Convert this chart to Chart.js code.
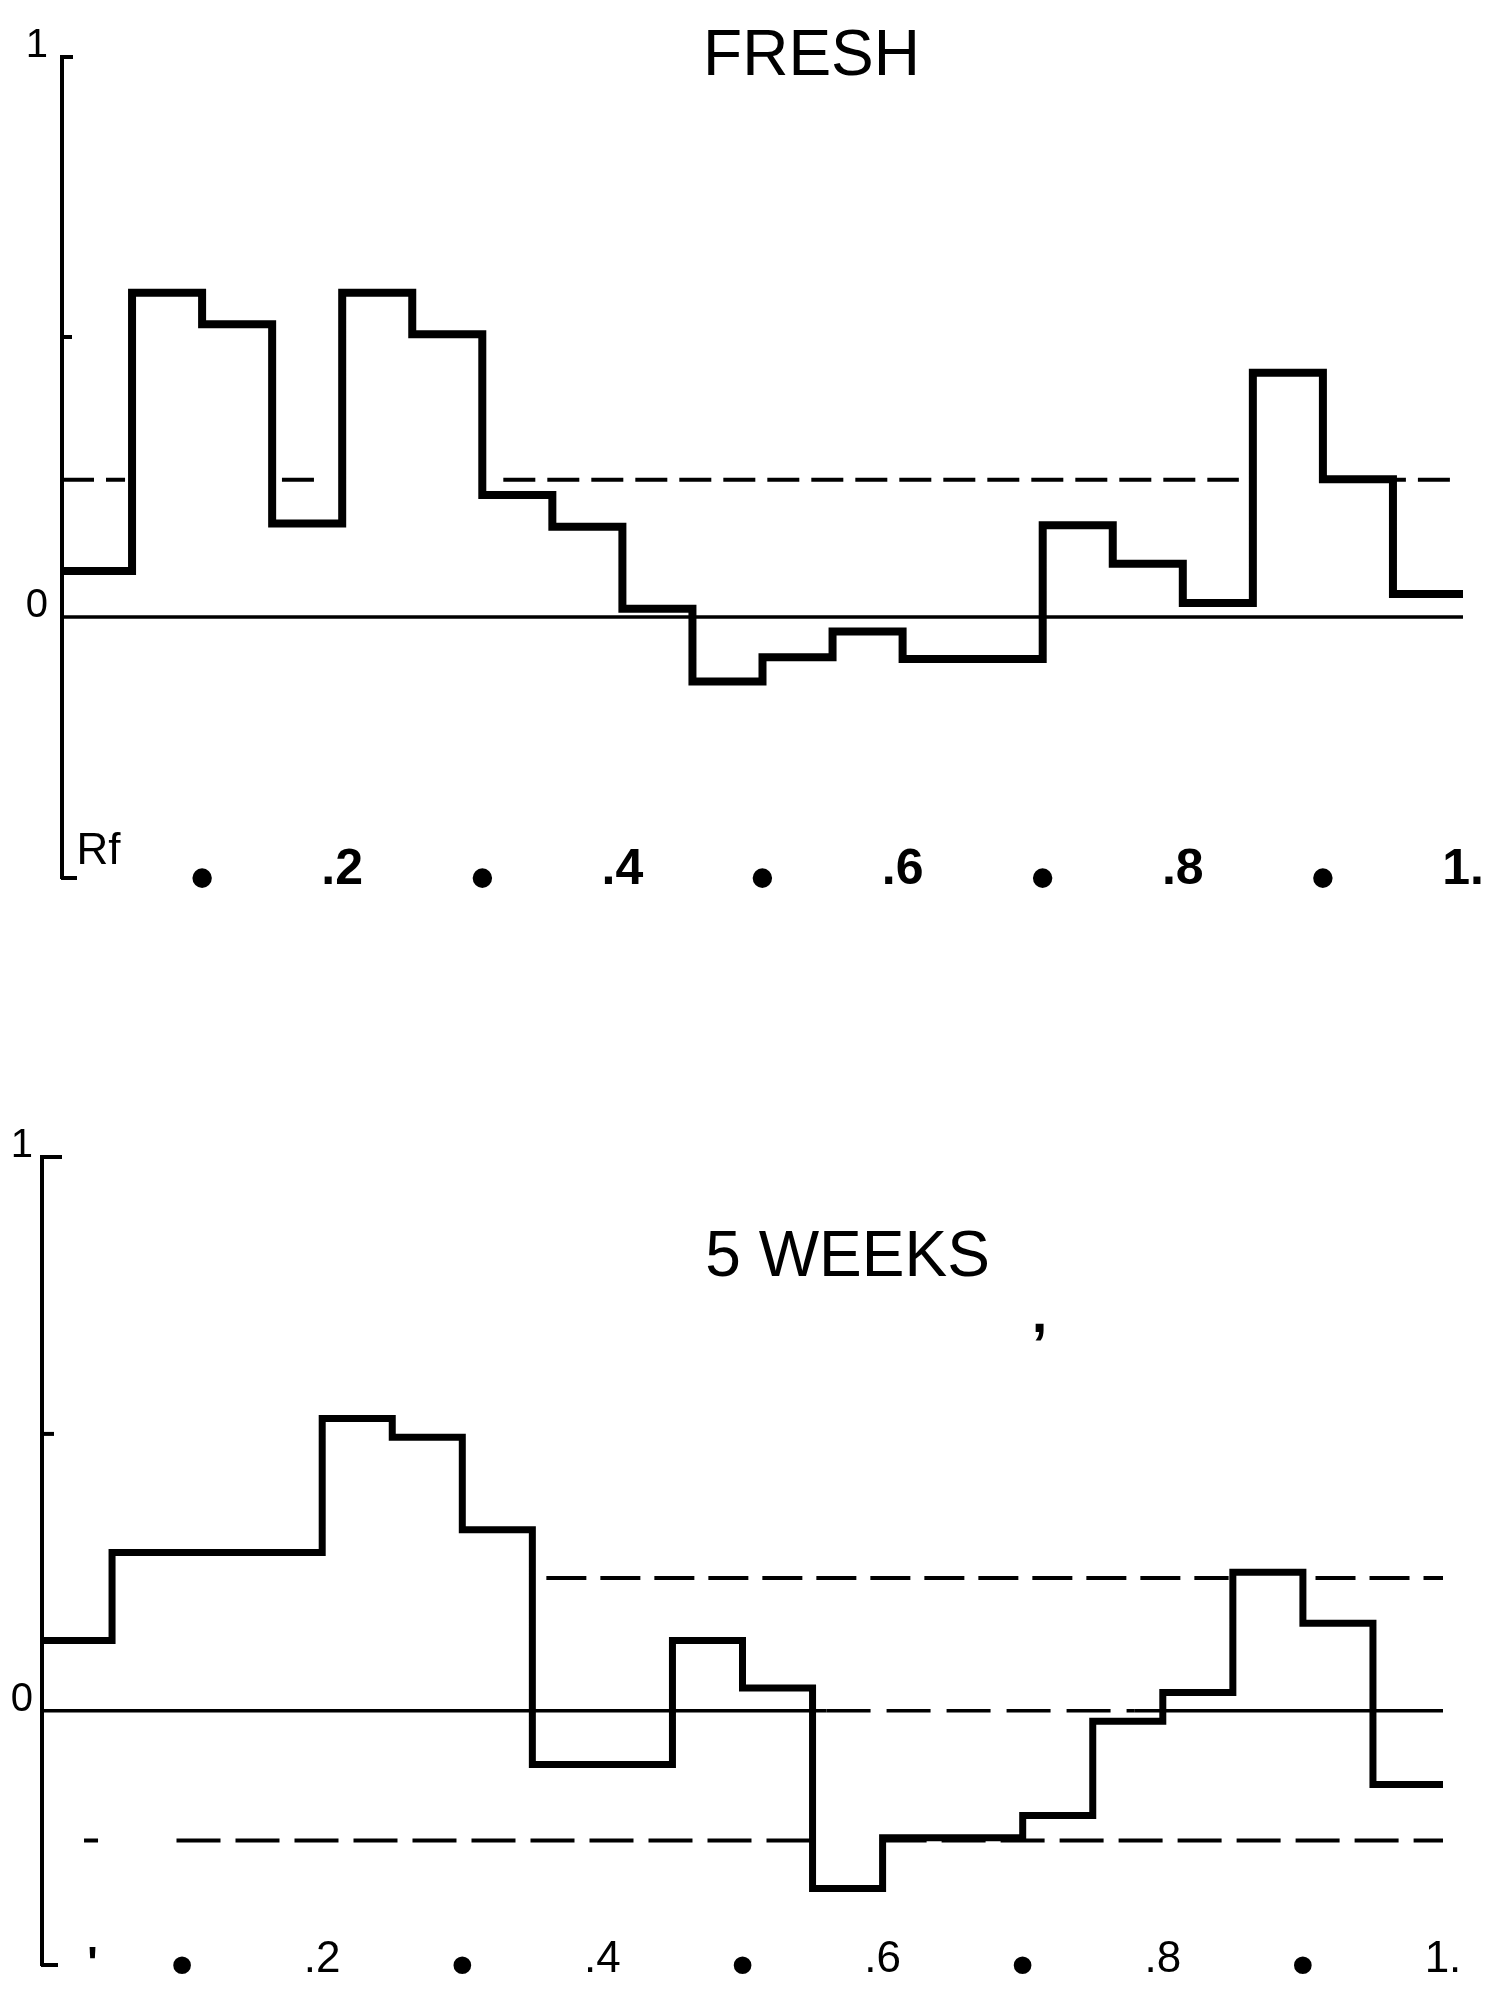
<!DOCTYPE html>
<html>
<head>
<meta charset="utf-8">
<title>FRESH / 5 WEEKS</title>
<script src="https://cdn.jsdelivr.net/npm/chart.js@4.4.1/dist/chart.umd.min.js"></script>
<style>
  html, body { margin: 0; padding: 0; background: #fff; }
  canvas { display: block; }
</style>
</head>
<body>
<canvas id="fresh-chart" width="1485" height="1000"></canvas>
<canvas id="weeks-chart" width="1485" height="998"></canvas>
<script>
// Rf のビン境界（0.05刻み）
const rfEdges = [0, 0.05, 0.1, 0.15, 0.2, 0.25, 0.3, 0.35, 0.4, 0.45, 0.5,
                 0.55, 0.6, 0.65, 0.7, 0.75, 0.8, 0.85, 0.9, 0.95, 1.0];

// 各ビンの値
const freshValues = [0.082, 0.579, 0.523, 0.167, 0.579, 0.505, 0.218, 0.161, 0.015, -0.115,
                     -0.072, -0.026, -0.075, -0.075, 0.164, 0.095, 0.025, 0.436, 0.246, 0.041];
const weeksValues = [0.127, 0.286, 0.286, 0.286, 0.528, 0.494, 0.327, -0.097, -0.097, 0.127,
                     0.041, -0.321, -0.229, -0.229, -0.189, -0.019, 0.033, 0.250, 0.158, -0.133];

// 破線の基準線（値と見えている区間）
const freshBand = 0.245;
const freshBandRanges = [[0, 0.045], [0.157, 0.18], [0.315, 0.84], [0.905, 0.993]];
const weeksBandUpper = 0.24;
const weeksBandUpperRanges = [[0.36, 0.847], [0.909, 1.0]];
const weeksBandLower = -0.234;
const weeksBandLowerRanges = [[0.03, 0.04], [0.096, 0.55], [0.6, 1.0]];
const weeksZeroDashRange = [0.56, 0.78];

// 目盛り
const xTickValues = [0, 0.1, 0.2, 0.3, 0.4, 0.5, 0.6, 0.7, 0.8, 0.9, 1.0];
const freshXLabels = ['', '•', '.2', '•', '.4', '•', '.6', '•', '.8', '•', '1.'];
const weeksXLabels = ['', '•', '.2', '•', '.4', '•', '.6', '•', '.8', '•', '1.'];
const yTickValues = [0, 1];
const yTickLabels = ['0', '1'];

const FONT = '"Liberation Sans", Arial, sans-serif';

/**
 * ステップ状の点列を作る
 */
function stepPoints(values) {
  const pts = values.map((v, i) => ({ x: rfEdges[i], y: v }));
  pts.push({ x: rfEdges[values.length], y: values[values.length - 1] });
  return pts;
}

/**
 * 区間ごとに途切れる水平線の点列
 */
function dashedSegments(ranges, y) {
  const pts = [];
  ranges.forEach(r => {
    pts.push({ x: r[0], y: y }, { x: r[1], y: y }, { x: r[1], y: null });
  });
  return pts;
}

// 軸の内向き目盛りと見出しを描くプラグイン
const panelDecor = {
  id: 'panelDecor',
  afterDraw(chart, args, opts) {
    const { ctx, chartArea, scales: { x, y } } = chart;
    ctx.save();
    ctx.strokeStyle = '#000';
    ctx.lineWidth = opts.markWidth;
    opts.marks.forEach(m => {
      const py = y.getPixelForValue(m[0]);
      ctx.beginPath();
      ctx.moveTo(chartArea.left - 1, py);
      ctx.lineTo(chartArea.left + m[1], py);
      ctx.stroke();
    });
    ctx.fillStyle = '#000';
    ctx.textAlign = 'center';
    ctx.textBaseline = 'middle';
    opts.texts.forEach(t => {
      ctx.font = t.font;
      ctx.fillText(t.text, x.getPixelForValue(t.x), y.getPixelForValue(t.y));
    });
    ctx.restore();
  }
};

function makeChart(id, cfg) {
  const ctx = document.getElementById(id).getContext('2d');
  return new Chart(ctx, {
    type: 'line',
    data: { datasets: cfg.datasets },
    plugins: [panelDecor],
    options: {
      responsive: false,
      animation: false,
      events: [],
      layout: { padding: cfg.padding },
      plugins: {
        legend: { display: false },
        tooltip: { enabled: false },
        title: { display: false },
        panelDecor: cfg.decor
      },
      elements: { point: { radius: 0 } },
      scales: {
        x: {
          type: 'linear',
          min: 0,
          max: 1,
          grid: { display: false },
          border: { display: false },
          afterFit: (scale) => { scale.height = cfg.xHeight; },
          afterBuildTicks: (scale) => { scale.ticks = xTickValues.map(v => ({ value: v })); },
          ticks: {
            autoSkip: false,
            maxRotation: 0,
            mirror: true,
            padding: cfg.xPadding,
            color: '#000',
            font: (c) => (cfg.xLabels[c.index] === '•' ? cfg.dotFont : cfg.xFont),
            callback: (value, index) => cfg.xLabels[index]
          }
        },
        y: {
          type: 'linear',
          min: cfg.yMin,
          max: 1,
          grid: { display: true, drawOnChartArea: false, drawTicks: false },
          border: { display: true, color: '#000', width: 4, dash: cfg.axisDash },
          afterFit: (scale) => { scale.width = cfg.yWidth; },
          afterBuildTicks: (scale) => { scale.ticks = yTickValues.map(v => ({ value: v })); },
          ticks: {
            padding: cfg.yPadding,
            labelOffset: -11,
            color: '#000',
            font: { family: FONT, size: 40 },
            callback: (value, index) => yTickLabels[index]
          }
        }
      }
    }
  });
}

// FRESH
makeChart('fresh-chart', {
  padding: { left: 0, right: 22, top: 57, bottom: 0 },
  yWidth: 62,
  xHeight: 122,
  yMin: -0.466,
  yPadding: 14,
  xPadding: -22,
  axisDash: [],
  xLabels: freshXLabels,
  xFont: { family: FONT, size: 50, weight: 'bold' },
  dotFont: { family: FONT, size: 68, weight: 'bold', lineHeight: 0.53 },
  decor: {
    markWidth: 4,
    marks: [[1, 11], [0.5, 10], [-0.466, 15]],
    texts: [
      { text: 'FRESH', x: 0.535, y: 1.0, font: '64px ' + FONT },
      { text: 'Rf', x: 0.026, y: -0.42, font: '44px ' + FONT }
    ]
  },
  datasets: [
    {
      data: [{ x: 0, y: 0 }, { x: 1, y: 0 }],
      borderColor: '#000',
      borderWidth: 3.5,
      order: 3
    },
    {
      data: dashedSegments(freshBandRanges, freshBand),
      borderColor: '#000',
      borderWidth: 4,
      borderDash: [32, 12],
      order: 2
    },
    {
      data: stepPoints(freshValues),
      stepped: 'before',
      borderColor: '#000',
      borderWidth: 8,
      borderJoinStyle: 'miter',
      fill: false,
      order: 0
    }
  ]
});

// 5 WEEKS
makeChart('weeks-chart', {
  padding: { left: 0, right: 42, top: 157, bottom: 0 },
  yWidth: 42,
  xHeight: 22,
  yMin: -0.459,
  yPadding: 9,
  xPadding: -21.4,
  axisDash: [70, 12],
  xLabels: weeksXLabels,
  xFont: { family: FONT, size: 44 },
  dotFont: { family: FONT, size: 62, weight: 'bold', lineHeight: 0.594 },
  decor: {
    markWidth: 4,
    marks: [[1, 20], [0.5, 12], [-0.459, 16]],
    texts: [
      { text: '5 WEEKS', x: 0.575, y: 0.817, font: '64px ' + FONT },
      { text: "'", x: 0.036, y: -0.46, font: 'bold 44px ' + FONT },
      { text: ',', x: 0.712, y: 0.711, font: 'bold 56px ' + FONT }
    ]
  },
  datasets: [
    {
      data: [{ x: 0, y: 0 }, { x: weeksZeroDashRange[0], y: 0 },
             { x: weeksZeroDashRange[1], y: 0 }, { x: 1, y: 0 }],
      borderColor: '#000',
      borderWidth: 3.5,
      segment: {
        borderDash: (c) => (c.p0.parsed.x === weeksZeroDashRange[0] ? [44, 16] : undefined)
      },
      order: 3
    },
    {
      data: dashedSegments(weeksBandUpperRanges, weeksBandUpper),
      borderColor: '#000',
      borderWidth: 4,
      borderDash: [40, 14],
      order: 2
    },
    {
      data: dashedSegments(weeksBandLowerRanges, weeksBandLower),
      borderColor: '#000',
      borderWidth: 4,
      borderDash: [44, 15],
      order: 2
    },
    {
      data: stepPoints(weeksValues),
      stepped: 'before',
      borderColor: '#000',
      borderWidth: 7,
      borderJoinStyle: 'miter',
      fill: false,
      order: 0
    }
  ]
});
</script>
</body>
</html>
